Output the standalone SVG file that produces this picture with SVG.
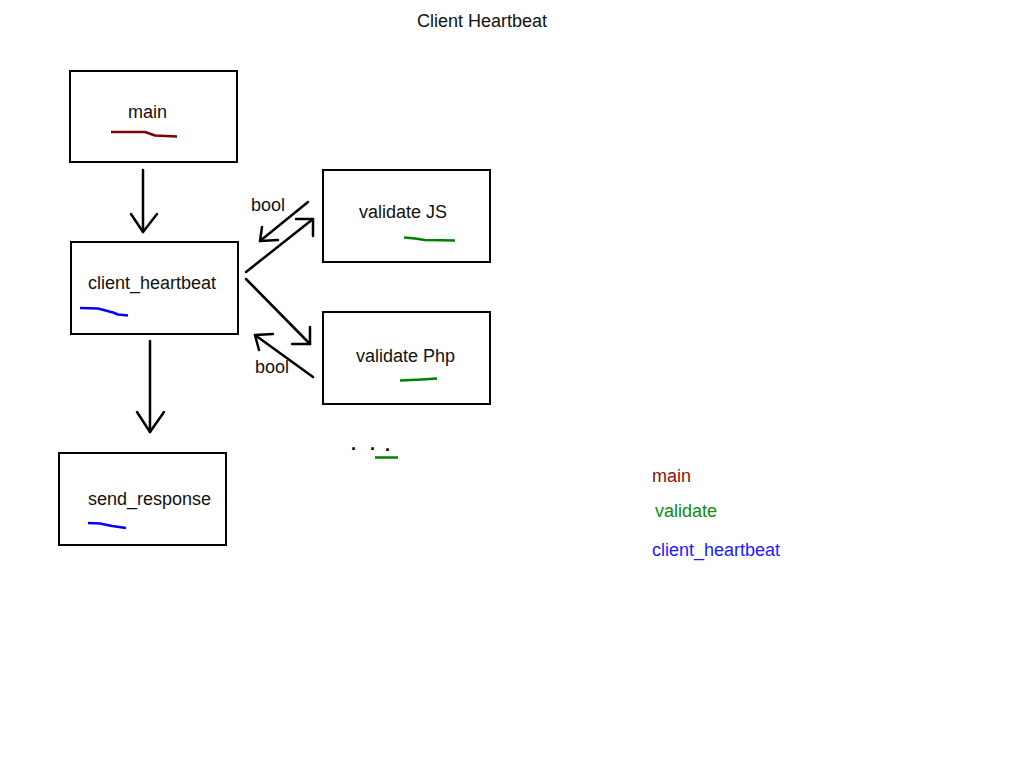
<svg xmlns="http://www.w3.org/2000/svg" width="1024" height="768" viewBox="0 0 1024 768">
<style>
text{font-family:"Liberation Sans",Arial,sans-serif;font-size:18px;fill:#111}
.box{fill:#fff;stroke:#000;stroke-width:2}
.conn{fill:none;stroke:#000;stroke-width:2.5;stroke-linecap:round;stroke-linejoin:round}
.ul{fill:none;stroke-width:2.5;stroke-linejoin:round}
.red{stroke:#800000}
.green{stroke:#008000}
.blue{stroke:#0000ff}
.dot{font-weight:bold;fill:#000}
</style>
<rect width="1024" height="768" fill="#fff"/>
<text id="title" x="417" y="27">Client Heartbeat</text>

<g id="main">
<rect class="box" x="70" y="71" width="167" height="91"/>
<text x="128" y="118">main</text>
<polyline class="ul red" points="111,132 145,132 155,135.5 177,136.5"/>
</g>

<g id="client_heartbeat">
<rect class="box" x="71" y="242" width="167" height="92"/>
<text x="88" y="289">client_heartbeat</text>
<polyline class="ul blue" points="80,308 98,308.5 113,312.5 118,314.5 128,315.5"/>
</g>

<g id="send_response">
<rect class="box" x="59" y="453" width="167" height="92"/>
<text x="88" y="505">send_response</text>
<polyline class="ul blue" points="88,523 100,523.5 112,526 126,528"/>
</g>

<g id="validate_js">
<rect class="box" x="323" y="170" width="167" height="92"/>
<text x="359" y="218">validate JS</text>
<polyline class="ul green" points="404,237.5 415,238.5 425,240 455,240.5"/>
</g>

<g id="validate_php">
<rect class="box" x="323" y="312" width="167" height="92"/>
<text x="356" y="362">validate Php</text>
<polyline class="ul green" points="400,380.5 422,379.5 437,378.5"/>
</g>

<g id="more">
<text class="dot" x="351" y="450">.</text>
<text class="dot" x="370" y="450">.</text>
<text class="dot" x="385" y="451">.</text>
<polyline class="ul green" points="375,457.5 398,457.5"/>
</g>

<g id="legend">
<text x="652" y="482" style="fill:#8a1010">main</text>
<text x="655" y="517" style="fill:#108a10">validate</text>
<text x="652" y="556" style="fill:#1a1aff">client_heartbeat</text>
</g>

<g id="connectors">
<line class="conn" x1="143" y1="170" x2="143" y2="232"/>
<polyline class="conn" points="131,214 143,232 157,214"/>

<line class="conn" x1="150" y1="341" x2="150" y2="432"/>
<polyline class="conn" points="137,412 150,432 164,412"/>

<line class="conn" x1="246" y1="272" x2="313" y2="219"/>
<polyline class="conn" points="296,219 313,219 313,236"/>

<line class="conn" x1="308" y1="202" x2="260" y2="241"/>
<polyline class="conn" points="262,227 260,241 278,240"/>

<line class="conn" x1="246" y1="279" x2="310" y2="344"/>
<polyline class="conn" points="310,327 310,344 292,344"/>

<line class="conn" x1="313" y1="377" x2="255" y2="335"/>
<polyline class="conn" points="273,334 255,335 259,350"/>

<text x="251" y="211">bool</text>
<text x="255" y="373">bool</text>
</g>
</svg>
